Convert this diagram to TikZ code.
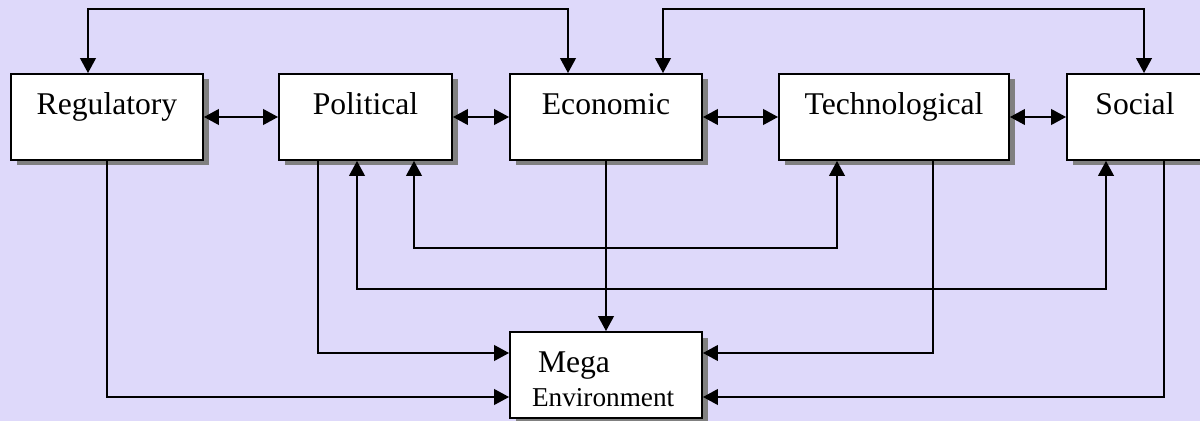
\documentclass[tikz,border=0pt]{standalone}
\usepackage{fontspec}
\setmainfont{Liberation Serif}
\usepackage{tikz}
\usetikzlibrary{arrows.meta,shadows}
\definecolor{bgcol}{RGB}{222,217,250}
\definecolor{shadowgray}{RGB}{128,128,128}

\begin{document}
\begin{tikzpicture}[
    >={Triangle[length=8.5pt,width=9pt]},
    box/.style={draw, line width=1.1pt, fill=white, inner xsep=0pt, inner ysep=0pt,
      minimum height=1.72cm, text height=0.82cm, text depth=0.9cm,
      font=\fontsize{18}{19.4}\selectfont,
      drop shadow={shadow xshift=0.11cm, shadow yshift=-0.11cm, fill=shadowgray, opacity=1}},
    link/.style={line width=0.8pt}
  ]
  % Background
  \useasboundingbox (0,0) rectangle (24,8.4);
  \fill [bgcol] (-0.2,-0.2) rectangle (24.2,8.6);

  % Draw boxes
  \node [box, minimum width=3.84cm] (reg) at (2.14,6.06) {Regulatory};
  \node [box, minimum width=3.46cm] (pol) at (7.31,6.06) {Political};
  \node [box, minimum width=3.84cm] (eco) at (12.12,6.06) {Economic};
  \node [box, minimum width=4.6cm] (tec) at (17.88,6.06) {Technological};
  \node [box, minimum width=2.72cm] (soc) at (22.70,6.06) {Social};
  \node [box, text width=2.96cm, inner xsep=0.44cm, align=left, text height=0.8cm, text depth=0.92cm] (meg) at (12.12,0.9)
    {\hspace*{0.12cm}Mega\\{\fontsize{15.5}{19.4}\selectfont Environment}};

  % Neighbour links
  \draw [link, <->] (reg) -- (pol);
  \draw [link, <->] (pol) -- (eco);
  \draw [link, <->] (eco) -- (tec);
  \draw [link, <->] (tec) -- (soc);

  % Top loops
  \draw [link, <->] ([xshift=-0.38cm]reg.north) -- ++(0,1.28) -| ([xshift=-0.76cm]eco.north);
  \draw [link, <->] ([xshift=1.14cm]eco.north) -- ++(0,1.28) -| ([xshift=0.18cm]soc.north);

  % Bottom loops
  \draw [link, <->] ([xshift=0.97cm]pol.south) -- ++(0,-1.74) -| ([xshift=-1.14cm]tec.south);
  \draw [link, <->] ([xshift=-0.17cm]pol.south) -- ++(0,-2.56) -| ([xshift=-0.58cm]soc.south);

  % Into the mega environment
  \draw [link, ->] (eco) -- (meg);
  \draw [link, ->] (reg.south) |- ([yshift=-0.44cm]meg.west);
  \draw [link, ->] ([xshift=-0.95cm]pol.south) |- ([yshift=0.44cm]meg.west);
  \draw [link, ->] ([xshift=0.78cm]tec.south) |- ([yshift=0.44cm]meg.east);
  \draw [link, ->] ([xshift=0.58cm]soc.south) |- ([yshift=-0.44cm]meg.east);
\end{tikzpicture}
\end{document}
